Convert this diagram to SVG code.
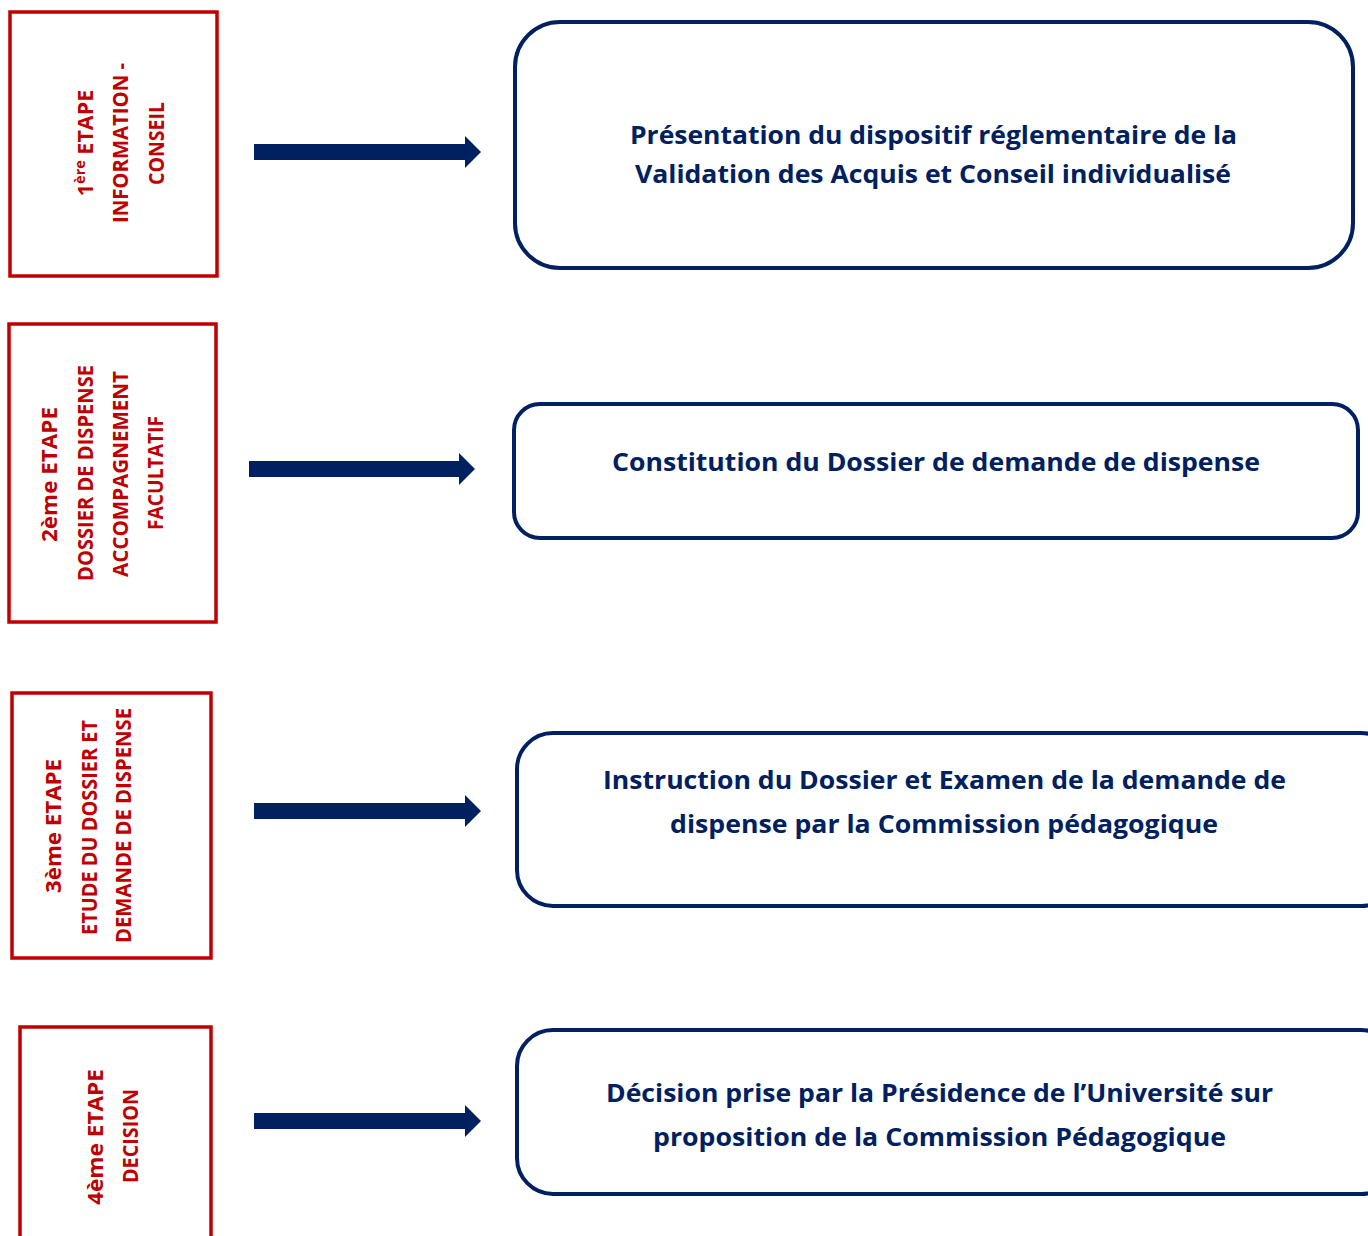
<svg xmlns="http://www.w3.org/2000/svg" width="1368" height="1236" viewBox="0 0 1368 1236">
<style>
.step{fill:#fff;stroke:#C00000;stroke-width:3.5}
.box{fill:#fff;stroke:#002060;stroke-width:4}
.lt{font-family:"Open Sans","Liberation Sans",sans-serif;font-weight:bold;font-size:21.5px;fill:#C00000;text-anchor:middle}
.rt{font-family:"Open Sans","Liberation Sans",sans-serif;font-weight:bold;font-size:25.5px;fill:#002060;text-anchor:middle}
.arr{fill:#002060}
</style>
<rect width="1368" height="1236" fill="#fff"/>

<g id="step1">
<rect class="step" x="10" y="12" width="207" height="264"/>
<text class="lt" transform="translate(93,143) rotate(-90)" font-size="22.5">1<tspan font-size="14.5" dy="-8">ère</tspan><tspan dy="8"> ETAPE</tspan></text>
<text class="lt" transform="translate(128,143) rotate(-90)" textLength="160" lengthAdjust="spacingAndGlyphs">INFORMATION -</text>
<text class="lt" transform="translate(164,143.5) rotate(-90)" textLength="83" lengthAdjust="spacingAndGlyphs">CONSEIL</text>
</g>

<g id="step2">
<rect class="step" x="9" y="324" width="207" height="298"/>
<text class="lt" transform="translate(57,474.5) rotate(-90)" textLength="135" lengthAdjust="spacingAndGlyphs">2ème ETAPE</text>
<text class="lt" transform="translate(93,473) rotate(-90)" textLength="216" lengthAdjust="spacingAndGlyphs">DOSSIER DE DISPENSE</text>
<text class="lt" transform="translate(128,474) rotate(-90)" textLength="206" lengthAdjust="spacingAndGlyphs">ACCOMPAGNEMENT</text>
<text class="lt" transform="translate(163,473) rotate(-90)" textLength="114" lengthAdjust="spacingAndGlyphs">FACULTATIF</text>
</g>

<g id="step3">
<rect class="step" x="12" y="693" width="199" height="265"/>
<text class="lt" transform="translate(61,826) rotate(-90)" textLength="134" lengthAdjust="spacingAndGlyphs">3ème ETAPE</text>
<text class="lt" transform="translate(97,827.5) rotate(-90)" textLength="215" lengthAdjust="spacingAndGlyphs">ETUDE DU DOSSIER ET</text>
<text class="lt" transform="translate(131,825.5) rotate(-90)" textLength="235" lengthAdjust="spacingAndGlyphs">DEMANDE DE DISPENSE</text>
</g>

<g id="step4">
<rect class="step" x="20" y="1027" width="191" height="230"/>
<text class="lt" transform="translate(103,1137) rotate(-90)" textLength="136" lengthAdjust="spacingAndGlyphs">4ème ETAPE</text>
<text class="lt" transform="translate(138,1136) rotate(-90)" textLength="94" lengthAdjust="spacingAndGlyphs">DECISION</text>
</g>

<g id="box1">
<rect class="box" x="515" y="22" width="838" height="246" rx="45" ry="45"/>
<text class="rt" x="933.5" y="144" textLength="607" lengthAdjust="spacingAndGlyphs">Présentation du dispositif réglementaire de la</text>
<text class="rt" x="933" y="183" textLength="596" lengthAdjust="spacingAndGlyphs">Validation des Acquis et Conseil individualisé</text>
</g>

<g id="box2">
<rect class="box" x="514" y="404" width="844" height="134" rx="26" ry="26"/>
<text class="rt" x="936" y="471" textLength="648" lengthAdjust="spacingAndGlyphs">Constitution du Dossier de demande de dispense</text>
</g>

<g id="box3">
<rect class="box" x="517" y="733" width="880" height="173" rx="36" ry="36"/>
<text class="rt" x="944.5" y="789" textLength="683" lengthAdjust="spacingAndGlyphs">Instruction du Dossier et Examen de la demande de</text>
<text class="rt" x="944" y="833" textLength="548" lengthAdjust="spacingAndGlyphs">dispense par la Commission pédagogique</text>
</g>

<g id="box4">
<rect class="box" x="517" y="1030" width="880" height="164" rx="36" ry="36"/>
<text class="rt" x="939.5" y="1102" textLength="667" lengthAdjust="spacingAndGlyphs">Décision prise par la Présidence de l’Université sur</text>
<text class="rt" x="939.5" y="1146" textLength="573" lengthAdjust="spacingAndGlyphs">proposition de la Commission Pédagogique</text>
</g>

<g id="connectors">
<polygon class="arr" points="254,144 465,144 465,136 481,152 465,168 465,160 254,160"/>
<polygon class="arr" points="249,461 459,461 459,453 475,469 459,485 459,477 249,477"/>
<polygon class="arr" points="254,803 465,803 465,795 481,811 465,827 465,819 254,819"/>
<polygon class="arr" points="254,1113 465,1113 465,1105 481,1121 465,1137 465,1129 254,1129"/>
</g>
</svg>
